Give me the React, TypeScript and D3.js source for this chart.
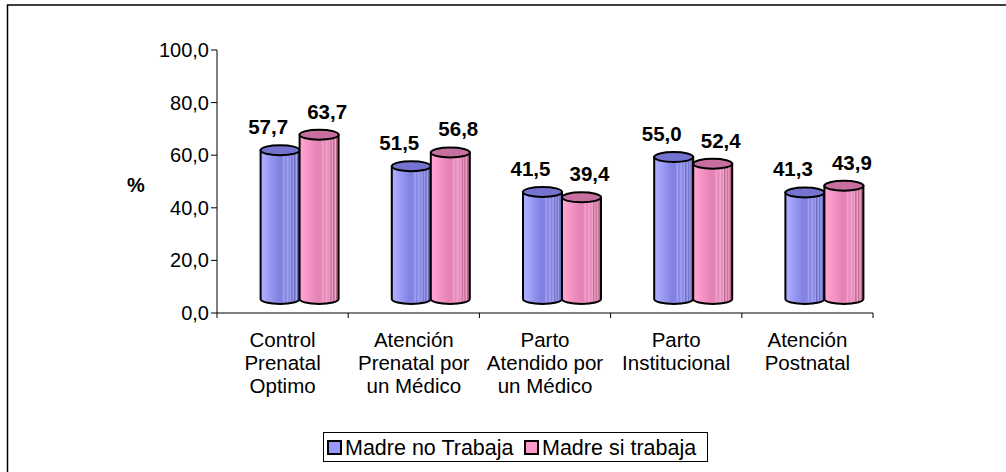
import React from "react";
import * as d3 from "d3";

const categories: string[][] = [
  ["Control", "Prenatal", "Optimo"],
  ["Atención", "Prenatal por", "un Médico"],
  ["Parto", "Atendido por", "un Médico"],
  ["Parto", "Institucional"],
  ["Atención", "Postnatal"],
];
const seriesNames = ["Madre no Trabaja", "Madre si trabaja"];
const noTrabaja = [57.7, 51.5, 41.5, 55.0, 41.3];
const siTrabaja = [63.7, 56.8, 39.4, 52.4, 43.9];
const yTicks = [0, 20, 40, 60, 80, 100];

const W = 1006;
const H = 472;
const FONT = "'Liberation Sans', Arial, sans-serif";

export default function App() {
  const x0 = 217;
  const x1 = 873;
  const yAxis = d3.scaleLinear().domain([0, 100]).range([313, 50]);
  const y3d = d3.scaleLinear().domain([0, 100]).range([299, 41]);
  const xBand = d3
    .scaleBand<number>()
    .domain(d3.range(categories.length))
    .range([x0, x1]);
  const xSub = d3.scaleBand<number>().domain([0, 1]).range([-39, 39]);
  const depth = 17;
  const rx = 19.5;
  const ry = 5;
  const fmt = (v: number) => v.toFixed(1).replace(".", ",");
  const series = [noTrabaja, siTrabaja];
  const gradIds = ["gBlue", "gPink"];
  const topFill = ["#7474d0", "#c7709f"];
  const labelDx = [-12, 8];

  const cyl = (cx: number, yTop: number, yBase: number) =>
    `M${cx - rx},${yTop} L${cx - rx},${yBase} A${rx},${ry} 0 0 0 ${cx + rx},${yBase} L${cx + rx},${yTop} Z`;

  const stripes = (c0: string, c1: string, c2: string, hl: string) => {
    const stops: [number, string][] = [
      [0, c0],
      [0.08, c0],
      [0.45, c1],
      [0.55, c1],
      [0.6, hl],
      [0.63, c1],
      [0.7, hl],
      [0.73, c1],
      [0.78, hl],
      [0.8, c2],
      [0.85, hl],
      [0.87, c2],
      [0.92, hl],
      [0.94, c2],
      [1, c2],
    ];
    return stops;
  };
  const grads = [
    stripes("#aaaaff", "#8282e2", "#6a6ac0", "#a4a4f0"),
    stripes("#ffa0d0", "#e683b6", "#c0648f", "#f0a8cc"),
  ];

  return (
    <svg
      width={W}
      height={H}
      style={{ position: "absolute", left: 0, top: 0, background: "#fff" }}
      fontFamily={FONT}
    >
      <defs>
        {grads.map((g, i) => (
          <linearGradient key={i} id={gradIds[i]} x1="0" y1="0" x2="1" y2="0">
            {g.map(([o, c], j) => (
              <stop key={j} offset={o} stopColor={c} />
            ))}
          </linearGradient>
        ))}
      </defs>
      <rect x={7.5} y={5} width={1010} height={480} fill="#fff" stroke="#000" strokeWidth={1.5} />

      {/* y axis */}
      <line x1={x0} x2={x0} y1={yAxis(100)} y2={yAxis(0)} stroke="#000" strokeWidth={1} />
      {yTicks.map((t) => (
        <g key={t}>
          <line x1={x0 - 6} x2={x0} y1={yAxis(t)} y2={yAxis(t)} stroke="#000" />
          <text x={209} y={yAxis(t)} dy="0.35em" textAnchor="end" fontSize={20}>
            {fmt(t)}
          </text>
        </g>
      ))}
      <text x={136} y={185} dy="0.35em" textAnchor="middle" fontSize={20} fontWeight="bold">
        %
      </text>

      {/* x axis */}
      <line x1={x0} x2={x1} y1={yAxis(0)} y2={yAxis(0)} stroke="#000" />
      {d3.range(categories.length + 1).map((i) => {
        const xx = i < categories.length ? (xBand(i) as number) : x1;
        return <line key={i} x1={xx} x2={xx} y1={yAxis(0)} y2={yAxis(0) + 5} stroke="#000" />;
      })}
      {categories.map((lines, i) => (
        <text
          key={i}
          x={(xBand(i) as number) + xBand.bandwidth() / 2}
          y={347}
          textAnchor="middle"
          fontSize={20.5}
        >
          {lines.map((l, k) => (
            <tspan key={k} x={(xBand(i) as number) + xBand.bandwidth() / 2} dy={k === 0 ? 0 : 23}>
              {l}
            </tspan>
          ))}
        </text>
      ))}

      {/* cylinders */}
      {categories.map((_, i) =>
        series.map((s, si) => {
          const cx =
            (xBand(i) as number) + xBand.bandwidth() / 2 + (xSub(si) as number) + xSub.bandwidth() / 2 + depth;
          const yTop = y3d(s[i]);
          const yBase = y3d(0);
          return (
            <g key={`${i}-${si}`}>
              <path d={cyl(cx, yTop, yBase)} fill={`url(#${gradIds[si]})`} stroke="#000" strokeWidth={2} />
              <ellipse cx={cx} cy={yTop} rx={rx} ry={ry} fill={topFill[si]} stroke="#000" strokeWidth={2} />
            </g>
          );
        })
      )}

      {/* data labels */}
      {categories.map((_, i) =>
        series.map((s, si) => {
          const cx =
            (xBand(i) as number) + xBand.bandwidth() / 2 + (xSub(si) as number) + xSub.bandwidth() / 2 + depth;
          return (
            <text
              key={`l${i}-${si}`}
              x={cx + labelDx[si]}
              y={y3d(s[i]) - 16}
              textAnchor="middle"
              fontSize={20.5}
              fontWeight="bold"
            >
              {fmt(s[i])}
            </text>
          );
        })
      )}

      {/* legend */}
      <rect x={323.5} y={432.5} width={384} height={29} fill="#fff" stroke="#000" strokeWidth={1} />
      {seriesNames.map((n, i) => {
        const lx = i === 0 ? 328 : 525;
        return (
          <g key={n}>
            <rect x={lx} y={441} width={13} height={13} fill={i === 0 ? "#9999ff" : "#ff99cc"} stroke="#000" strokeWidth={2} />
            <text x={lx + 17} y={455} fontSize={21.5}>
              {n}
            </text>
          </g>
        );
      })}
    </svg>
  );
}
